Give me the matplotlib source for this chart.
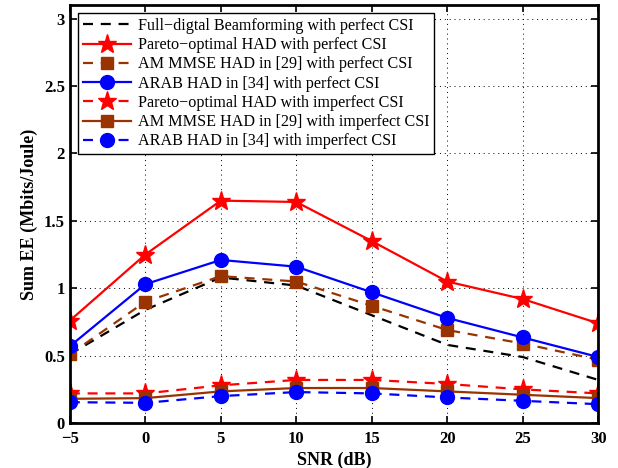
import matplotlib
matplotlib.use("Agg")
from matplotlib import pyplot as plt

snr = [-5, 0, 5, 10, 15, 20, 25, 30]

# perfect CSI
full_digital = [0.51, 0.84, 1.08, 1.02, 0.80, 0.58, 0.49, 0.32]
pareto_perf = [0.76, 1.25, 1.65, 1.64, 1.35, 1.05, 0.92, 0.74]
ammse_perf = [0.51, 0.90, 1.09, 1.05, 0.87, 0.69, 0.59, 0.47]
arab_perf = [0.57, 1.03, 1.21, 1.16, 0.97, 0.78, 0.635, 0.49]

# imperfect CSI
pareto_imp = [0.22, 0.22, 0.28, 0.32, 0.32, 0.29, 0.25, 0.22]
ammse_imp = [0.18, 0.185, 0.235, 0.26, 0.26, 0.235, 0.21, 0.185]
arab_imp = [0.155, 0.15, 0.20, 0.23, 0.22, 0.19, 0.165, 0.14]

labels = ["Full\u2212digtal Beamforming with perfect CSI",
          "Pareto\u2212optimal HAD with perfect CSI",
          "AM MMSE HAD in [29] with perfect CSI",
          "ARAB HAD in [34] with perfect CSI",
          "Pareto\u2212optimal HAD with imperfect CSI",
          "AM MMSE HAD in [29] with imperfect CSI",
          "ARAB HAD in [34] with imperfect CSI"]

plt.rcParams['font.family'] = ['Liberation Serif', 'DejaVu Serif']

brown = '#993300'
dash = (0, (4.5, 3.5))

fig = plt.figure(figsize=(6.18, 4.68), dpi=100)
ax = fig.add_axes([0.113, 0.096, 0.855, 0.893])

ax.plot(snr, full_digital, color='black', linestyle=dash, lw=1.6, label=labels[0])
ax.plot(snr, pareto_perf, color='red', lw=1.6, marker='*', ms=14, label=labels[1])
ax.plot(snr, ammse_perf, color=brown, linestyle=dash, lw=1.6, marker='s', ms=9, label=labels[2])
ax.plot(snr, arab_perf, color='blue', lw=1.6, marker='o', ms=10, label=labels[3])
ax.plot(snr, pareto_imp, color='red', linestyle=dash, lw=1.6, marker='*', ms=14, label=labels[4])
ax.plot(snr, ammse_imp, color=brown, lw=1.6, marker='s', ms=9, label=labels[5])
ax.plot(snr, arab_imp, color='blue', linestyle=dash, lw=1.6, marker='o', ms=10, label=labels[6])

ax.set_xlim(-5, 30)
ax.set_ylim(0, 3.1)
ax.set_xticks(snr)
ax.set_yticks([0, 0.5, 1, 1.5, 2, 2.5, 3])
ax.set_yticklabels(['0', '0.5', '1', '1.5', '2', '2.5', '3'])
ax.grid(True, linestyle=(0, (1, 4)), color='black', lw=0.7)
ax.tick_params(direction='in', top=True, right=True, length=5, width=1.2, labelsize=12)
ax.tick_params(axis='x', pad=6)
for lab in ax.get_xticklabels() + ax.get_yticklabels():
    lab.set_fontweight('bold')
for s in ax.spines.values():
    s.set_linewidth(2)

ax.set_xlabel("SNR (dB)", fontsize=13, fontweight='bold', labelpad=3)
ax.set_ylabel("Sum EE (Mbits/Joule)", fontsize=13, fontweight='bold', labelpad=4)

leg = ax.legend(loc='upper left', fontsize=11.6, fancybox=False, edgecolor='black',
                framealpha=1, handlelength=3, borderaxespad=0.5, labelspacing=0.2,
                borderpad=0.3, handletextpad=0.4)
leg.get_frame().set_linewidth(1)

fig.savefig("out.png", dpi=100)
